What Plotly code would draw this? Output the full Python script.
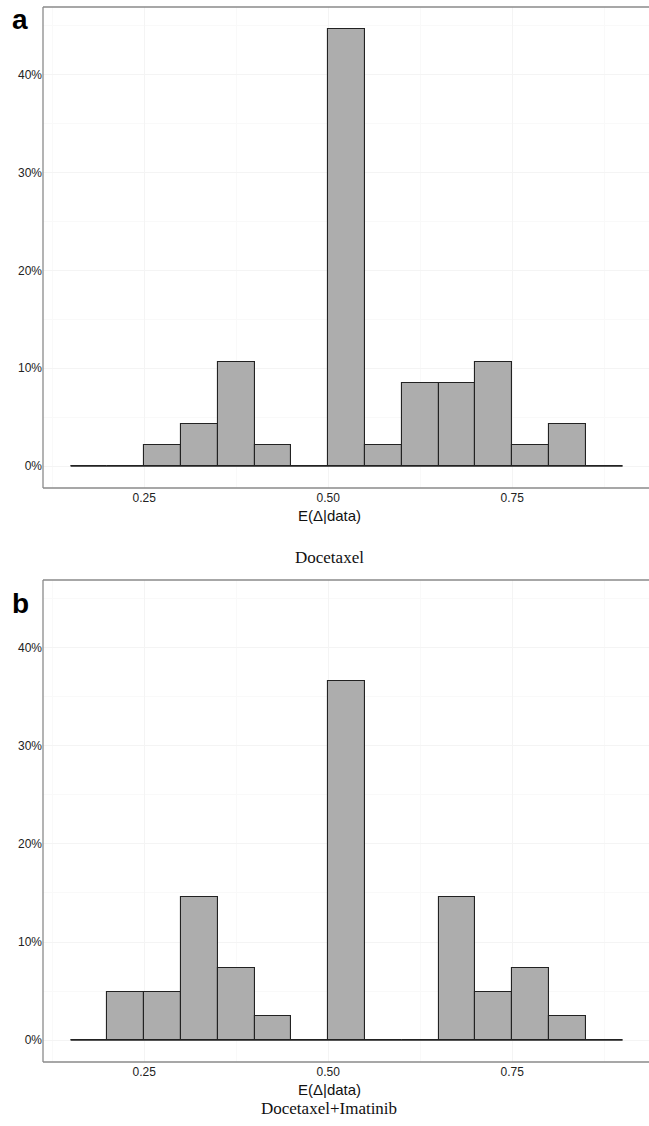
import plotly.graph_objects as go

# ---- data ----
bin_left = [0.15, 0.20, 0.25, 0.30, 0.35, 0.40, 0.45, 0.50, 0.55, 0.60, 0.65, 0.70, 0.75, 0.80, 0.85]
bin_width = 0.05
counts_doc = [0, 0, 1, 2, 5, 1, 0, 21, 1, 4, 4, 5, 1, 2, 0]
counts_doc_ima = [0, 2, 2, 6, 3, 1, 0, 15, 0, 0, 6, 2, 3, 1, 0]
panel_titles = ["Docetaxel", "Docetaxel+Imatinib"]
panel_letters = ["a", "b"]
x_ticks = [0.25, 0.50, 0.75]
y_ticks = [0, 10, 20, 30, 40]
x_title = "E(Δ|data)"

W, H = 649, 1126
def py(px):
    return 1 - px / H

pct_doc = [c / sum(counts_doc) * 100 for c in counts_doc]
pct_ima = [c / sum(counts_doc_ima) * 100 for c in counts_doc_ima]
centers = [b + bin_width / 2 for b in bin_left]
ymax = max(pct_doc)
yrange = [-0.05 * ymax, 1.05 * ymax]
xlo = bin_left[0]
xhi = bin_left[-1] + bin_width
xspan = xhi - xlo
xrange = [xlo - 0.05 * xspan, xlo - 0.05 * xspan + 606 / 736]

fig = go.Figure()

panels = [
    dict(pct=pct_doc, xa="x", ya="y", ydom=[py(488), py(7)],
         title_y=516, sub_y=557, letter_y=20),
    dict(pct=pct_ima, xa="x2", ya="y2", ydom=[py(1062), py(580)],
         title_y=1089, sub_y=1108, letter_y=603),
]

bar_color = "#ADADAD"
frame = dict(color="#8A8A8A", width=1.3)
tickfont = dict(family="Liberation Sans, Arial, sans-serif", size=12, color="#222222")
for i, p in enumerate(panels):
    fig.add_trace(go.Scatter(
        x=[xlo, xhi], y=[0, 0], mode="lines",
        line=dict(color="#222222", width=1.1), xaxis=p["xa"], yaxis=p["ya"],
        showlegend=False, hoverinfo="skip"))
    fig.add_trace(go.Bar(
        x=centers, y=p["pct"], width=bin_width,
        marker=dict(color=bar_color, line=dict(color="#222222", width=1.1)),
        xaxis=p["xa"], yaxis=p["ya"], showlegend=False))

    ax_suffix = "" if i == 0 else "2"
    fig.layout["xaxis" + ax_suffix] = dict(
        domain=[0, 1], range=xrange, anchor="y" + ax_suffix,
        tickvals=x_ticks, ticktext=[f"{v:.2f}" for v in x_ticks],
        showgrid=True, gridcolor="#F4F4F4", gridwidth=1,
        minor=dict(dtick=0.125, tick0=0, showgrid=True, gridcolor="#F9F9F9", gridwidth=1),
        zeroline=False, showline=False, ticks="",
        tickfont=tickfont, ticklabelstandoff=1,
    )
    fig.layout["yaxis" + ax_suffix] = dict(
        domain=p["ydom"], range=yrange, anchor="x" + ax_suffix,
        tickvals=y_ticks, ticktext=[f"{v}%" for v in y_ticks],
        showgrid=True, gridcolor="#F4F4F4", gridwidth=1,
        minor=dict(dtick=5, tick0=0, showgrid=True, gridcolor="#F9F9F9", gridwidth=1),
        zeroline=False, showline=False, ticks="",
        tickfont=tickfont,
    )
    xr = f"x{ax_suffix} domain"
    yr = f"y{ax_suffix} domain"
    # frame: left, top, bottom (right edge lies outside the image)
    fig.add_shape(type="line", xref=xr, yref=yr, x0=0, x1=0, y0=0, y1=1, line=frame, layer="above")
    fig.add_shape(type="line", xref=xr, yref=yr, x0=0, x1=1, y0=1, y1=1, line=frame, layer="above")
    fig.add_shape(type="line", xref=xr, yref=yr, x0=0, x1=1, y0=0, y1=0, line=frame, layer="above")
    fig.add_annotation(text=x_title, xref="paper", yref="paper",
                       x=(329 - 43) / (W - 43), y=py(p["title_y"]),
                       showarrow=False, xanchor="center", yanchor="middle",
                       font=dict(family="Liberation Sans, Arial, sans-serif", size=15, color="#111111"))
    fig.add_annotation(text=panel_titles[i], xref="paper", yref="paper",
                       x=(329 - 43) / (W - 43), y=py(p["sub_y"]),
                       showarrow=False, xanchor="center", yanchor="middle",
                       font=dict(family="Liberation Serif, serif", size=17, color="#111111"))
    fig.add_annotation(text=f"<b>{panel_letters[i]}</b>", xref="paper", yref="paper",
                       x=(20 - 43) / (W - 43), y=py(p["letter_y"]),
                       showarrow=False, xanchor="center", yanchor="middle",
                       font=dict(family="Liberation Sans, Arial, sans-serif", size=28, color="#000000"))

fig.update_layout(
    width=W, height=H,
    margin=dict(l=43, r=0, t=0, b=0, autoexpand=False),
    paper_bgcolor="white", plot_bgcolor="white",
    bargap=0, showlegend=False,
)

fig.write_html(
    "out.html",
    config={"displayModeBar": False},
    post_script="document.body.style.margin='0';document.body.style.overflow='hidden';",
)
